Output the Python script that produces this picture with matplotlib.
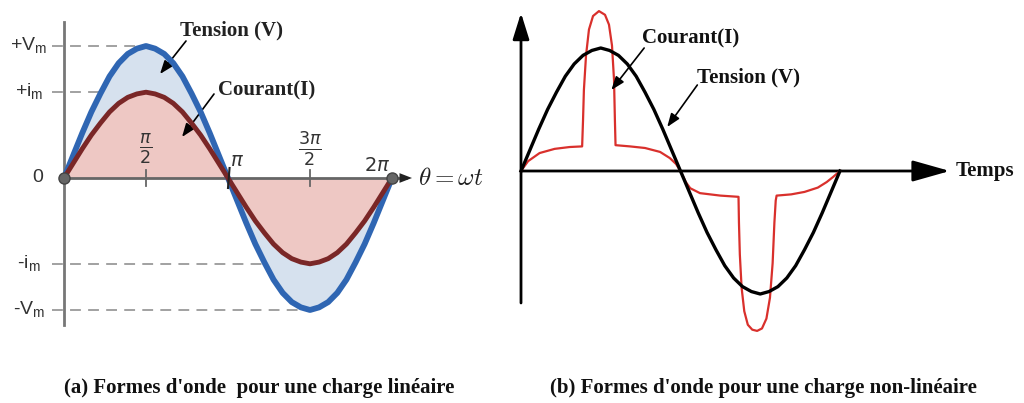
import numpy as np
import matplotlib.pyplot as plt

# forme d'onde sinusoidale lue sur la figure, pas de 10 degres (0..360)
angles = [0, 10, 20, 30, 40, 50, 60, 70, 80, 90, 100, 110, 120, 130, 140, 150, 160, 170, 180,
          190, 200, 210, 220, 230, 240, 250, 260, 270, 280, 290, 300, 310, 320, 330, 340, 350, 360]
onde = [0, .17, .34, .50, .64, .77, .87, .94, .98, 1, .98, .94, .87, .77, .64, .50, .34, .17, 0,
        -.17, -.34, -.50, -.64, -.77, -.87, -.94, -.98, -1, -.98, -.94, -.87, -.77, -.64, -.50, -.34, -.17, 0]

# (a) charge lineaire
V_m = 1.0
I_m = 0.65

# (b) charge non-lineaire : courant lu point par point (degres, amplitude)
t_courant = [0, 8, 21, 38, 55, 69, 70, 71, 73.4, 76.7, 81.3, 88, 94.8, 99.3, 102.7, 105, 106, 106.7,
             123, 140, 157, 168, 175, 180,
             186, 191, 202, 225, 245.5, 246, 247, 249, 252, 256, 261, 266.5, 272, 277, 281, 284, 286, 287.5, 288.5,
             305, 320, 335, 345, 352, 360]
i_courant = [0, .08, .146, .18, .195, .20, .41, .66, .94, 1.15, 1.26, 1.30, 1.27, 1.19, 1.02, .74, .41, .21,
             .20, .187, .155, .105, .057, 0,
             -.09, -.14, -.18, -.20, -.21, -.42, -.68, -.95, -1.14, -1.25, -1.29, -1.30, -1.28, -1.20, -1.03, -.75, -.42, -.24, -.20,
             -.19, -.17, -.135, -.09, -.05, 0]
V_b = 1.0

fig = plt.figure(figsize=(10.24, 4.03), dpi=100)
serif = ['Liberation Serif', 'DejaVu Serif']
sans = ['Liberation Sans', 'DejaVu Sans']
fleche = dict(arrowstyle='-|>,head_length=0.8,head_width=0.3', color='black', lw=1.2,
              mutation_scale=10, shrinkA=0, shrinkB=0)

# ---------- (a) ----------
ax1 = fig.add_axes([0, 0, 500 / 1024, 1])
ax1.set_xlim(-64 / 52.2, 436 / 52.2)
ax1.set_ylim(-225 / 132, 178 / 132)
ax1.axis('off')

th = np.radians(angles)
v = V_m * np.array(onde)
i = I_m * np.array(onde)
ax1.fill_between(th, v, 0, color='#d6e1ee', lw=0, zorder=1)
ax1.fill_between(th, i, 0, color='#eec8c4', lw=0, zorder=2)

for niv, xp in [(V_m, np.pi / 2), (I_m, np.pi / 2), (-I_m, 3 * np.pi / 2), (-V_m, 3 * np.pi / 2)]:
    ax1.plot([-12 / 52.2, xp], [niv, niv], color='#9a9a9a', lw=1.3, ls=(0, (6, 4)), zorder=0)

ax1.plot([0, 0], [-147 / 132, 156 / 132], color='#777777', lw=2, zorder=3)
ax1.plot([0, 6.55], [0, 0], color='#666666', lw=2, zorder=3)
ax1.annotate('', xy=(348 / 52.2, 0), xytext=(6.45, 0),
             arrowprops=dict(arrowstyle='-|>,head_length=0.9,head_width=0.35', color='#222222',
                             lw=0, mutation_scale=10, shrinkA=0, shrinkB=0), zorder=6)
for xp in [np.pi / 2, 3 * np.pi / 2]:
    ax1.plot([xp, xp], [-8 / 132, 8 / 132], color='#666666', lw=1.3, zorder=3)
ax1.plot([np.pi, np.pi + 0.03], [-10 / 132, 10 / 132], color='#222222', lw=1.5, zorder=6)

ax1.plot(th, v, color='#2f66b3', lw=4.2, zorder=4, solid_capstyle='round')
ax1.plot(th, i, color='#7a2727', lw=3.5, zorder=5, solid_capstyle='round')
ax1.plot([0, 2 * np.pi], [0, 0], 'o', ms=8, color='#666666', mec='#444444', mew=1, zorder=7)

ax1.text(np.pi / 2, 29 / 132, r'$\frac{\pi}{2}$', ha='center', va='center', fontsize=18, color='#333333')
ax1.text(3 * np.pi / 2, 29 / 132, r'$\frac{3\pi}{2}$', ha='center', va='center', fontsize=18, color='#333333')
ax1.text(np.pi + 0.18, 17 / 132, r'$\pi$', ha='center', va='center', fontsize=14, color='#333333')
ax1.text(2 * np.pi - 0.28, 12 / 132, r'$2\pi$', ha='center', va='center', fontsize=14, color='#333333')
ax1.text(354 / 52.2, 0, r'$\theta = \omega t$', ha='left', va='center', fontsize=18,
         math_fontfamily='cm', color='#222222')

lab = [('+V$_\\mathregular{m}$', V_m), ('+i$_\\mathregular{m}$', I_m), ('0', 0),
       ('-i$_\\mathregular{m}$', -I_m), ('-V$_\\mathregular{m}$', -V_m)]
for txt, niv in lab:
    xx = -26 / 52.2 if txt == '0' else -35 / 52.2
    ax1.text(xx, niv, txt, ha='center', va='center', fontsize=14, family=sans, color='#333333')

ax1.text(116 / 52.2, 148 / 132, 'Tension (V)', fontsize=15, fontweight='bold', family=serif,
         ha='left', va='center', color='#222222')
ax1.annotate('', xy=(96 / 52.2, 104 / 132), xytext=(122 / 52.2, 137 / 132), arrowprops=fleche)
ax1.text(154 / 52.2, 88 / 132, 'Courant(I)', fontsize=15, fontweight='bold', family=serif,
         ha='left', va='center', color='#222222')
ax1.annotate('', xy=(118 / 52.2, 41 / 132), xytext=(150 / 52.2, 84 / 132), arrowprops=fleche)

# ---------- (b) ----------
ax2 = fig.add_axes([500 / 1024, 0, 524 / 1024, 1])
ax2.set_xlim(-21 / 0.886, 503 / 0.886)
ax2.set_ylim(-232 / 123, 171 / 123)
ax2.axis('off')

ax2.annotate('', xy=(484, 0), xytext=(0, 0),
             arrowprops=dict(arrowstyle='-|>,head_length=2.3,head_width=0.65', color='black', lw=2,
                             mutation_scale=10, shrinkA=0, shrinkB=0))
ax2.annotate('', xy=(0, 1.285), xytext=(0, -1.073),
             arrowprops=dict(arrowstyle='-|>,head_length=1.6,head_width=0.5', color='black', lw=2,
                             mutation_scale=10, shrinkA=0, shrinkB=0))

ax2.plot(angles, V_b * np.array(onde), color='black', lw=2.4, zorder=4)
ax2.plot(t_courant, i_courant, color='#d9302c', lw=1.6, zorder=3)

ax2.text(490, 0, 'Temps', fontsize=15, fontweight='bold', family=serif, ha='left', va='center', color='#111111')
ax2.text(137, 133 / 123, 'Courant(I)', fontsize=15, fontweight='bold', family=serif,
         ha='left', va='center', color='#111111')
ax2.annotate('', xy=(102, 81 / 123), xytext=(139, 123 / 123), arrowprops=fleche)
ax2.text(199, 94 / 123, 'Tension (V)', fontsize=15, fontweight='bold', family=serif,
         ha='left', va='center', color='#111111')
ax2.annotate('', xy=(165, 44 / 123), xytext=(199, 86 / 123), arrowprops=fleche)

# legendes
fig.text(259 / 1024, 1 - 388 / 403, "(a) Formes d'onde  pour une charge linéaire", ha='center', va='center',
         fontsize=15, fontweight='bold', family=serif, color='#111111')
fig.text(763 / 1024, 1 - 388 / 403, "(b) Formes d'onde pour une charge non-linéaire", ha='center', va='center',
         fontsize=15, fontweight='bold', family=serif, color='#111111')

fig.savefig('out.png', dpi=100)
